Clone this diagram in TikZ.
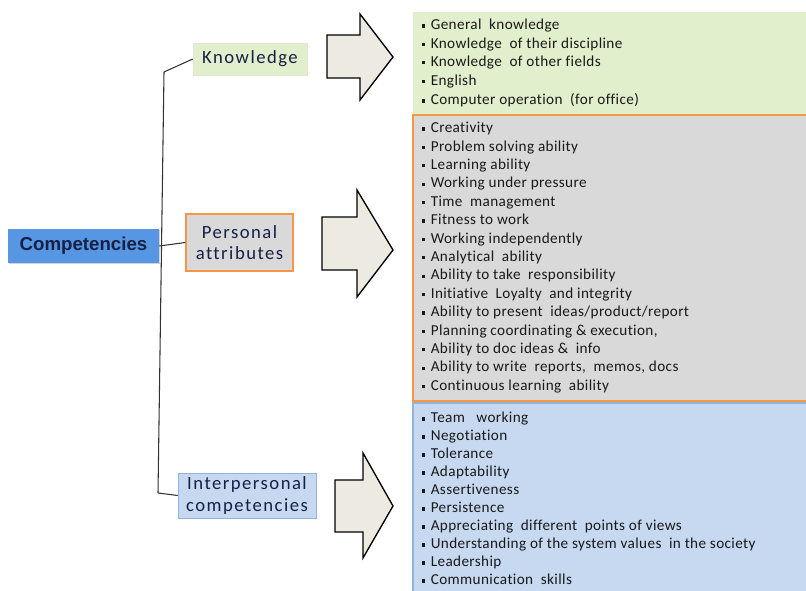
\documentclass[tikz,border=0pt]{standalone}
\usepackage{fontspec}
\setmainfont{Carlito}
\newfontfamily\headfont{Liberation Sans}
\newfontfamily\labelfont{Carlito}[LetterSpace=8, Ligatures=NoCommon]
\newfontfamily\listfont{Carlito}[LetterSpace=2.5, Ligatures=NoCommon]
\usepackage{tikz}
\usetikzlibrary{shadows}

\definecolor{compblue}{RGB}{86,150,226}
\definecolor{compnavy}{RGB}{22,32,70}
\definecolor{knowgreen}{RGB}{226,239,204}
\definecolor{persgray}{RGB}{217,217,217}
\definecolor{persorange}{RGB}{247,150,70}
\definecolor{interblue}{RGB}{198,217,241}
\definecolor{interedge}{RGB}{149,179,215}
\definecolor{arrowfill}{RGB}{237,235,225}

\def\px{0.75pt}
\def\bul{\rule[0.3ex]{2.4pt}{2.4pt}\hspace{4pt}}

\tikzset{
  catbox/.style={rectangle, align=center, inner sep=0pt,
    font=\labelfont\fontsize{14}{16}\selectfont, text=compnavy},
  listtext/.style={anchor=north west, align=left, inner sep=0pt,
    text=black!90, font=\listfont\fontsize{11.4}{13.8}\selectfont},
  bigarrow/.style={draw=black, line width=1pt, fill=arrowfill, line join=miter},
  branch/.style={draw=black!80, line width=0.8pt}
}

\begin{document}
\begin{tikzpicture}[x=\px, y=-\px]
  \useasboundingbox (0,0) rectangle (806,591);

  %% root and the three groups
  \node[catbox, fill=compblue, minimum width=151*\px, minimum height=34*\px,
        font=\headfont\bfseries\fontsize{14}{16}\selectfont,
        drop shadow={opacity=0.35, shadow xshift=1pt, shadow yshift=-1pt}]
        (competencies) at (83.5,246) {Competencies};
  \node[catbox, fill=knowgreen, draw=knowgreen!80!black!40!white,
        minimum width=114*\px, minimum height=32*\px,
        drop shadow={opacity=0.25, shadow xshift=1pt, shadow yshift=-1pt}]
        (knowledge) at (250,59) {Knowledge};
  \node[catbox, fill=persgray, draw=persorange, line width=1pt,
        minimum width=107*\px, minimum height=57*\px]
        (personal) at (239.5,242.5) {Personal\\attributes};
  \node[catbox, fill=interblue, draw=interedge,
        minimum width=138*\px, minimum height=45*\px,
        drop shadow={opacity=0.25, shadow xshift=1pt, shadow yshift=-1pt}]
        (interpersonal) at (247,495.5) {Interpersonal\\competencies};

  %% the bracket
  \coordinate (trunktop) at (164,72);
  \coordinate (trunkbot) at (158,493);
  \path[branch] (trunktop) -- (trunkbot);
  \path[branch] (trunktop) -- (knowledge.west);
  \path[branch] (trunkbot) -- (interpersonal.west);
  \path[branch] (competencies.east) -- (personal.west);

  %% block arrows
  \draw[bigarrow] (327,35) -- (360,35) -- (360,14) -- (393,57)
                  -- (360,100) -- (360,78) -- (327,78) -- cycle;
  \draw[bigarrow] (322,217) -- (357,217) -- (357,190) -- (393,250)
                  -- (357,297) -- (357,270) -- (322,270) -- cycle;
  \draw[bigarrow] (335,480) -- (363,480) -- (363,453) -- (393,506)
                  -- (363,558) -- (363,532) -- (335,532) -- cycle;

  %% lists on the right
  \fill[knowgreen, drop shadow={opacity=0.25, shadow xshift=1pt, shadow yshift=-1pt}]
       (413,12) rectangle (812,114);
  \draw[persorange, line width=1pt, fill=persgray] (413,115) rectangle (812,401);
  \draw[interedge, line width=1pt, fill=interblue] (413,403) rectangle (812,600);

  \node[listtext] (knowlist) at (422,19) {%
    \bul General\ \ knowledge\\
    \bul Knowledge\ \ of their discipline\\
    \bul Knowledge\ \ of other fields\\
    \bul English\\[1pt]
    \bul Computer operation\ \ (for office)};
  \node[listtext] (perslist) at (422,122) {%
    \bul Creativity\\
    \bul Problem solving ability\\
    \bul Learning ability\\
    \bul Working under pressure\\
    \bul Time\ \ management\\
    \bul Fitness to work\\
    \bul Working independently\\
    \bul Analytical\ \ ability\\
    \bul Ability to take\ \ responsibility\\
    \bul Initiative\ \ Loyalty\ \ and integrity\\
    \bul Ability to present\ \ ideas/product/report\\
    \bul Planning coordinating \& execution,\\
    \bul Ability to doc ideas \&\ \ info\\
    \bul Ability to write\ \ reports,\ \ memos, docs\\
    \bul Continuous learning\ \ ability};
  \node[listtext, font=\listfont\fontsize{11.4}{13.5}\selectfont]
        (interlist) at (422,412) {%
    \bul Team\ \ \ working\\
    \bul Negotiation\\
    \bul Tolerance\\
    \bul Adaptability\\
    \bul Assertiveness\\
    \bul Persistence\\
    \bul Appreciating\ \ different\ \ points of views\\
    \bul Understanding of the system values\ \ in the society\\
    \bul Leadership\\
    \bul Communication\ \ skills};
\end{tikzpicture}
\end{document}
